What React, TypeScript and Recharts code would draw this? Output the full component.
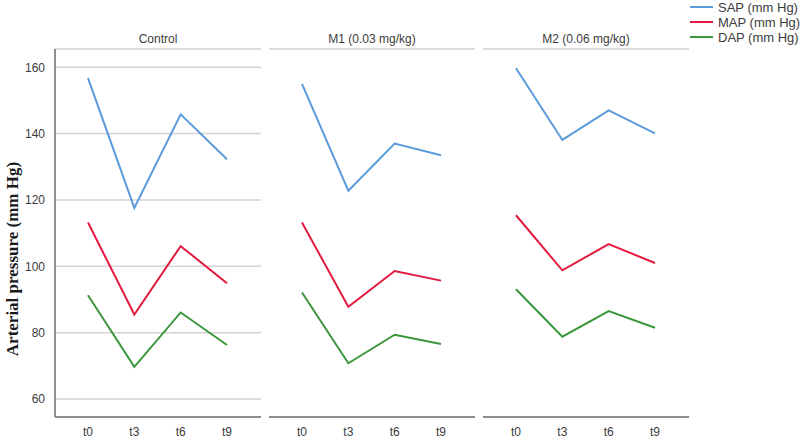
import { LineChart, Line, XAxis, YAxis, CartesianGrid } from 'recharts'

const tiempos = ['t0', 't3', 't6', 't9']
const grupos = ['Control', 'M1 (0.03 mg/kg)', 'M2 (0.06 mg/kg)']

// valores por grupo, en el orden de tiempos
const sap = [
    [156.7, 117.6, 145.8, 132.3],
    [155.0, 122.8, 137.0, 133.5],
    [159.7, 138.1, 147.0, 140.1],
]
const map = [
    [113.2, 85.5, 106.1, 94.9],
    [113.2, 87.8, 98.6, 95.7],
    [115.4, 98.8, 106.7, 101.0],
]
const dap = [
    [91.3, 69.7, 86.1, 76.3],
    [92.1, 70.8, 79.4, 76.6],
    [93.1, 78.8, 86.5, 81.5],
]
const yTicks = [60, 80, 100, 120, 140, 160]

const SERIES = [
    { key: 'sap', nombre: 'SAP (mm Hg)', color: '#5b9bdb' },
    { key: 'map', nombre: 'MAP (mm Hg)', color: '#e3193f' },
    { key: 'dap', nombre: 'DAP (mm Hg)', color: '#3a973a' },
]

const PANEL_LEFT = [55, 269, 483]
const PANEL_W = 206
const TOP = 49
const BOTTOM = 417
const AXIS = '#8e8e8e'
const TEXTO = '#3c3c3c'

function Panel({ idx }: { idx: number }) {
    const datos = tiempos.map((t, i) => ({ t, sap: sap[idx][i], map: map[idx][i], dap: dap[idx][i] }))
    const primero = idx === 0
    const yw = primero ? 55 : 0
    const ml = primero ? 0 : 4
    const left = PANEL_LEFT[idx] - yw - ml
    return (
        <div style={{ position: 'absolute', left, top: 0 }}>
            <LineChart
                width={ml + yw + PANEL_W + 2}
                height={438}
                data={datos}
                margin={{ top: TOP, right: 2, left: ml, bottom: 0 }}
            >
                <CartesianGrid vertical={false} stroke="#d3d3d3" strokeWidth={1.5} />
                <XAxis
                    dataKey="t"
                    height={438 - BOTTOM}
                    padding={{ left: 33, right: 34 }}
                    axisLine={{ stroke: AXIS, strokeWidth: 2 }}
                    tickLine={false}
                    tickMargin={4}
                    tick={{ fill: TEXTO, fontSize: 12, fontFamily: 'Liberation Sans' }}
                />
                <YAxis
                    type="number"
                    domain={[54.6, 165.5]}
                    ticks={yTicks}
                    width={yw}
                    axisLine={{ stroke: AXIS, strokeWidth: 2 }}
                    tickLine={false}
                    tickMargin={4}
                    tick={primero ? { fill: TEXTO, fontSize: 12, fontFamily: 'Liberation Sans' } : false}
                />
                {SERIES.map(s => (
                    <Line
                        key={s.key}
                        dataKey={s.key}
                        stroke={s.color}
                        strokeWidth={2}
                        dot={false}
                        type="linear"
                        isAnimationActive={false}
                    />
                ))}
            </LineChart>
        </div>
    )
}

export default function App() {
    return (
        <div style={{ position: 'absolute', left: 0, top: 0, width: 800, height: 438, background: '#fff', fontFamily: 'Liberation Sans' }}>
            {grupos.map((g, i) => (
                <div
                    key={g}
                    style={{
                        position: 'absolute', left: PANEL_LEFT[i], top: 31, width: PANEL_W,
                        textAlign: 'center', fontSize: 12, color: TEXTO, lineHeight: '16px',
                    }}
                >
                    {g}
                </div>
            ))}
            {grupos.map((_, i) => <Panel key={i} idx={i} />)}

            {/* eje Y */}
            <div
                style={{
                    position: 'absolute', left: 13, top: 259, transform: 'translate(-50%, -50%) rotate(-90deg)',
                    whiteSpace: 'nowrap', fontFamily: 'Liberation Serif', fontWeight: 'bold', fontSize: 17, color: '#1a1a1a',
                }}
            >
                Arterial pressure (mm Hg)
            </div>

            {/* leyenda */}
            {SERIES.map((s, i) => (
                <div key={s.key} style={{ position: 'absolute', left: 690, top: i * 15 - 1, height: 16, display: 'flex', alignItems: 'center' }}>
                    <div style={{ width: 23, height: 2, background: s.color, marginRight: 5 }} />
                    <span style={{ fontSize: 13, color: TEXTO, whiteSpace: 'nowrap' }}>{s.nombre}</span>
                </div>
            ))}
        </div>
    )
}
